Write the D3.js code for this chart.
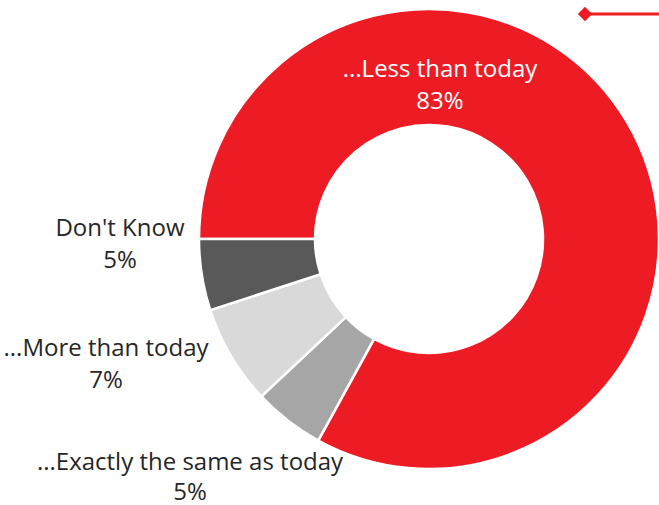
<!DOCTYPE html>
<html>
<head>
<meta charset="utf-8">
<script src="https://cdn.jsdelivr.net/npm/d3@7"></script>
<style>
  html, body { margin: 0; padding: 0; background: #fff; }
  svg { display: block; }
  text { font-family: "Open Sans", "Lato", sans-serif; font-weight: 400; }
</style>
</head>
<body>
<svg id="chart" width="659" height="505"></svg>
<script>
// ---- data ----
const categories = ["...Less than today", "...Exactly the same as today", "...More than today", "Don't Know"];
const values = [83, 5, 7, 5];
const valueLabels = ["83%", "5%", "7%", "5%"];
const colors = ["#ED1C24", "#A6A6A6", "#D9D9D9", "#595959"];

// ---- layout ----
const W = 659, H = 505;
const cx = 429, cy = 239, R = 230, r = 114;
// label anchor positions (centre x, baseline of first line, line gap)
const labelPos = [
  { x: 440, y: 77, gap: 32, fill: "#FFFFFF" },
  { x: 190, y: 470, gap: 30, fill: "#262626" },
  { x: 106, y: 356, gap: 32, fill: "#262626" },
  { x: 120, y: 236, gap: 32, fill: "#262626" }
];

const svg = d3.select("#chart");

const pie = d3.pie().sort(null).value(d => d)
  .startAngle(-Math.PI / 2).endAngle(3 * Math.PI / 2);
const arc = d3.arc().innerRadius(r).outerRadius(R);

const g = svg.append("g").attr("transform", `translate(${cx},${cy})`);
g.selectAll("path")
  .data(pie(values))
  .join("path")
  .attr("d", arc)
  .attr("fill", (d, i) => colors[i])
  .attr("stroke", "#fff")
  .attr("stroke-width", 2.5)
  .attr("stroke-linejoin", "miter");

// labels
const lg = svg.append("g");
categories.forEach((c, i) => {
  const p = labelPos[i];
  const t = lg.append("text")
    .attr("text-anchor", "middle")
    .attr("fill", p.fill)
    .style("font-size", "24px");
  t.append("tspan").attr("x", p.x).attr("y", p.y).text(c);
  t.append("tspan").attr("x", p.x).attr("y", p.y + p.gap).text(valueLabels[i]);
});

// legend marker (top right)
const leg = svg.append("g");
leg.append("line")
  .attr("x1", 584).attr("x2", 659).attr("y1", 14).attr("y2", 14)
  .attr("stroke", "#ED1C24").attr("stroke-width", 3);
leg.append("path")
  .attr("d", d3.symbol().type(d3.symbolDiamond2).size(130)())
  .attr("transform", "translate(585,14)")
  .attr("fill", "#ED1C24");
</script>
</body>
</html>
